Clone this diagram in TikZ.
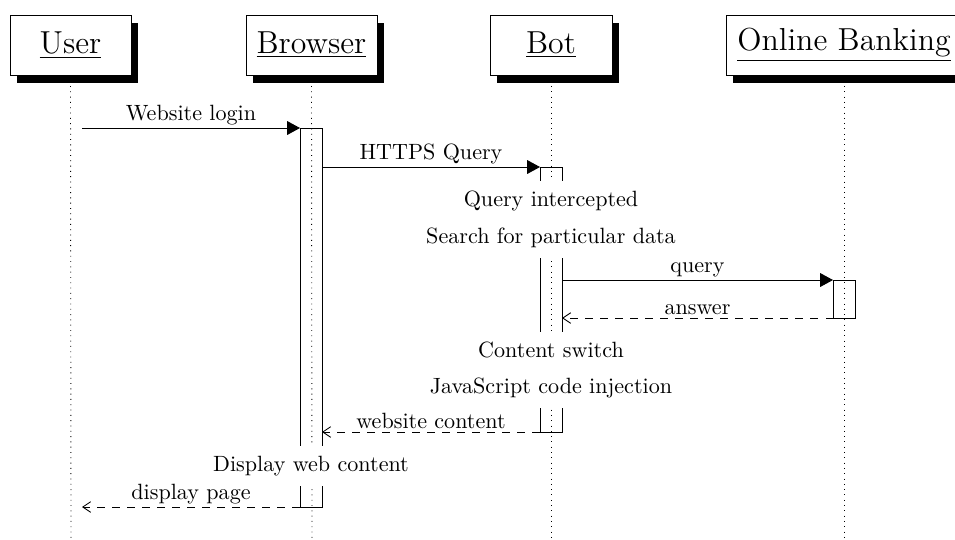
\documentclass[tikz,border=0pt]{standalone}
\usetikzlibrary{arrows.meta,shadows}
\begin{document}
\begin{tikzpicture}[x=0.4525pt,y=-0.4525pt,
  inst/.style={draw,fill=white,rectangle,minimum height=27.15pt,inner sep=0pt,font=\Large,
     drop shadow={shadow xshift=3pt,shadow yshift=-3.4pt,fill=black,opacity=1}},
  lifeline/.style={dotted},
  actbox/.style={draw},
  callmsg/.style={-{Triangle[length=5.8pt,width=6.2pt]}},
  retmsg/.style={dash pattern=on 3.4pt off 3.4pt,-{Straight Barb[length=3.6pt,width=4.8pt]}},
  notetext/.style={fill=white,inner xsep=2pt,inner ysep=0pt,text height=11.5pt,text depth=7pt,anchor=base},
  calllbl/.style={midway,anchor=base,inner sep=0pt,yshift=3.2pt},
  retlbl/.style={midway,anchor=base,inner sep=0pt,yshift=1.4pt}]
\useasboundingbox (0,0) rectangle (955,539);

% instances
\node[inst, minimum width=54.75pt] (user) at (70.5,45) {\underline{User}};
\node[inst, minimum width=59.3pt] (browser) at (311.5,45) {\underline{Browser}};
\node[inst, minimum width=55.2pt] (bot) at (551,45) {\underline{Bot}};
\node[inst, minimum width=106.8pt] (bank) at (844,45) {\underline{Online Banking}};

% lifelines
\coordinate (userEnd) at (71,539);
\coordinate (browserEnd) at (312,539);
\coordinate (botEnd) at (551,539);
\coordinate (bankEnd) at (844,539);
\draw[lifeline] (user.south) -- (userEnd);
\draw[lifeline] (browser.south) -- (browserEnd);
\draw[lifeline] (bot.south) -- (botEnd);
\draw[lifeline] (bank.south) -- (bankEnd);

% activation boxes
\coordinate (brTL) at (300,128);
\coordinate (brBR) at (322,507);
\coordinate (btTL) at (540,167);
\coordinate (btBR) at (562,432);
\coordinate (bkTL) at (833,280);
\coordinate (bkBR) at (855,318);
\draw[actbox] (brTL) rectangle (brBR);
\draw[actbox] (btTL) rectangle (btBR);
\draw[actbox] (bkTL) rectangle (bkBR);

% message end points
\coordinate (m1a) at (82,128);
\coordinate (m1b) at (300,128);
\coordinate (m2a) at (322,167);
\coordinate (m2b) at (540,167);
\coordinate (m3a) at (562,280);
\coordinate (m3b) at (833,280);
\coordinate (m4a) at (833,318);
\coordinate (m4b) at (562,318);
\coordinate (m5a) at (540,432);
\coordinate (m5b) at (322,432);
\coordinate (m6a) at (300,507);
\coordinate (m6b) at (82,507);

% notes (white background hides lifeline and activation sides)
\node[notetext] (n1) at (551,206) {Query intercepted};
\node[notetext] (n2) at (551,243) {Search for particular data};
\node[notetext] (n3) at (551,357) {Content switch};
\node[notetext] (n4) at (551,393) {JavaScript code injection};
\node[notetext] (n5) at (311,471) {Display web content};

% messages
\draw[callmsg] (m1a) -- node[calllbl] (l1) {Website login} (m1b);
\draw[callmsg] (m2a) -- node[calllbl] (l2) {HTTPS Query} (m2b);
\draw[callmsg] (m3a) -- node[calllbl] (l3) {query} (m3b);
\draw[retmsg] (m4a) -- node[retlbl] (l4) {answer} (m4b);
\draw[retmsg] (m5a) -- node[retlbl] (l5) {website content} (m5b);
\draw[retmsg] (m6a) -- node[calllbl] (l6) {display page} (m6b);
\end{tikzpicture}
\end{document}
